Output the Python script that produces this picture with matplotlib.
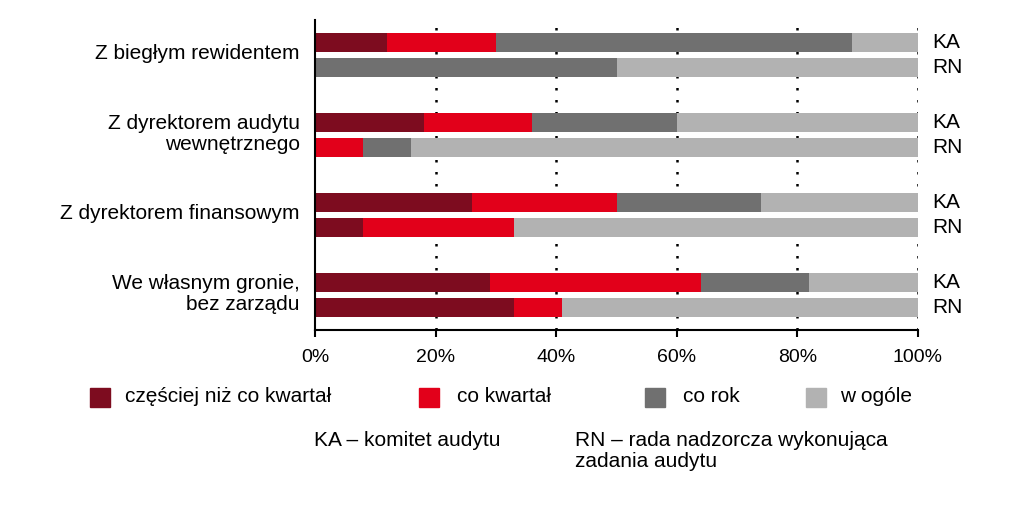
import matplotlib as mpl

mpl.use('agg')

import matplotlib.pyplot as plt
from matplotlib.patches import Rectangle

plt.rc('font', family='Liberation Sans', size=15)

groups = ["Z biegłym rewidentem",
          "Z dyrektorem audytu\nwewnętrznego",
          "Z dyrektorem finansowym",
          "We własnym gronie,\nbez zarządu"]

categories = ["częściej niż co kwartał", "co kwartał", "co rok", "w ogóle"]
colors = ["#7d0c1f", "#e2001a", "#707070", "#b2b2b2"]

# komitet audytu (KA)
ka_czesciej = [12, 18, 26, 29]
ka_kwartal = [18, 18, 24, 35]
ka_rok = [59, 24, 24, 18]
ka_wogole = [11, 40, 26, 18]

# rada nadzorcza (RN)
rn_czesciej = [0, 0, 8, 33]
rn_kwartal = [0, 8, 25, 8]
rn_rok = [50, 8, 0, 0]
rn_wogole = [50, 84, 67, 59]

ticks = [0, 20, 40, 60, 80, 100]
tick_labels = ["0%", "20%", "40%", "60%", "80%", "100%"]

fig = plt.figure(figsize=(10.24, 5.26), dpi=100)
ax = fig.add_axes([315 / 1024, 1 - 330 / 526, 603 / 1024, 310 / 526])

ka_y = [g + 0.28 for g in range(4)]
rn_y = [g + 0.59 for g in range(4)]
h = 0.24

ka_series = [ka_czesciej, ka_kwartal, ka_rok, ka_wogole]
rn_series = [rn_czesciej, rn_kwartal, rn_rok, rn_wogole]

left_ka = [0] * 4
left_rn = [0] * 4
for i in range(4):
    ax.barh(ka_y, ka_series[i], left=left_ka, height=h, color=colors[i], zorder=2)
    ax.barh(rn_y, rn_series[i], left=left_rn, height=h, color=colors[i], zorder=2)
    left_ka = [a + b for a, b in zip(left_ka, ka_series[i])]
    left_rn = [a + b for a, b in zip(left_rn, rn_series[i])]

for g in range(4):
    ax.text(102.4, ka_y[g], "KA", va='center', ha='left')
    ax.text(102.4, rn_y[g], "RN", va='center', ha='left')

ax.set_xlim(0, 100)
ax.set_ylim(3.875, 0)

for x in ticks[1:]:
    ax.axvline(x, color='black', linestyle=(0, (1, 3.8)), linewidth=1.8, zorder=0)

ax.set_xticks(ticks)
ax.set_xticklabels(tick_labels, fontsize=14)
ax.tick_params(axis='x', length=5, width=1.5, pad=9)

# group labels sit slightly above the middle of each pair of bars
ax.set_yticks([(a + b) / 2 - 0.045 for a, b in zip(ka_y, rn_y)])
ax.set_yticklabels(groups, ha='right', multialignment='right', linespacing=1.1)
ax.tick_params(axis='y', length=0, pad=11)

for s in ['top', 'right']:
    ax.spines[s].set_visible(False)
ax.spines['left'].set_linewidth(1.5)
ax.spines['bottom'].set_linewidth(1.5)

# legend
leg_x = [90, 419, 645, 806]
leg_text_x = [125, 457, 683, 840]
for i in range(4):
    fig.patches.append(Rectangle((leg_x[i] / 1024, 1 - 407 / 526), 20 / 1024, 19 / 526,
                                 transform=fig.transFigure, color=colors[i]))
    fig.text(leg_text_x[i] / 1024, 1 - 397 / 526, categories[i], va='center', ha='left')

fig.text(314 / 1024, 1 - 440 / 526, "KA – komitet audytu", va='center', ha='left')
fig.text(575 / 1024, 1 - 451 / 526, "RN – rada nadzorcza wykonująca\nzadania audytu",
         va='center', ha='left', linespacing=1.15)

fig.savefig('out.png', dpi=100)
